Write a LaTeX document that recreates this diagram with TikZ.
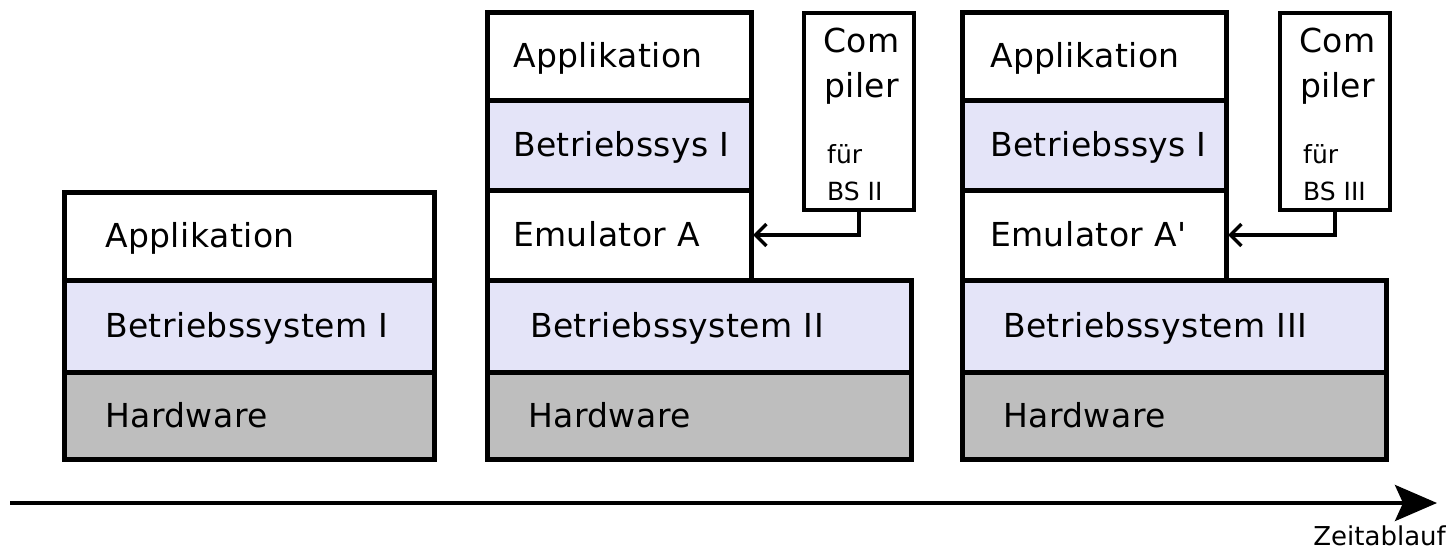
\documentclass[tikz,border=0pt]{standalone}
\usepackage{fontspec}
\setmainfont{DejaVu Sans}
\newfontfamily\widefont[LetterSpace=1.5]{DejaVu Sans}
\usetikzlibrary{arrows.meta}
\definecolor{osfill}{HTML}{E4E4F8}
\definecolor{hwfill}{HTML}{BEBEBE}
\newcommand{\bigtxt}{\widefont\fontsize{33}{38}\selectfont}
\newcommand{\smtxt}{\fontsize{25}{30}\selectfont}
\begin{document}
\begin{tikzpicture}[x=1pt,y=-1pt,
  layer/.style={draw=black, line width=5pt, anchor=north west, outer sep=0pt,
    inner xsep=0pt, inner ysep=0pt, align=left, font=\bigtxt,
    text height=23pt, text depth=0pt},
  comp/.style={draw=black, line width=4pt, fill=white, anchor=north west,
    outer sep=0pt, inner sep=0pt, minimum width=110pt, minimum height=197pt},
  ctext/.style={anchor=base west, inner sep=0pt, font=\bigtxt},
  csmall/.style={anchor=base west, inner sep=0pt, font=\smtxt},
  conn/.style={draw=black, line width=3.5pt, -{Straight Barb[length=11pt,width=22pt]}},
  timeline/.style={draw=black, line width=4pt, -{Stealth[length=42pt,width=36pt,inset=8pt]}},
]
\useasboundingbox (0,0) rectangle (1446,551);

% Stack 1
\node[layer, fill=white,  text width=370pt, minimum height=88pt] (a1) at (64,192) {\hspace*{41pt}Applikation};
\node[layer, fill=osfill, text width=370pt, minimum height=92pt] (b1) at (64,280) {\hspace*{41pt}Betriebssystem I};
\node[layer, fill=hwfill, text width=370pt, minimum height=87pt] (h1) at (64,372) {\hspace*{41pt}Hardware};

% Stack 2
\node[layer, fill=osfill, text width=424pt, minimum height=92pt] (o2) at (487,280) {\hspace*{43pt}Betriebssystem II};
\node[layer, fill=hwfill, text width=424pt, minimum height=87pt] (h2) at (487,372) {\hspace*{41pt}Hardware};
\node[layer, fill=white,  text width=264pt, minimum height=87pt] (a2) at (487,13)  {\hspace*{26pt}Applikation};
\node[layer, fill=osfill, text width=264pt, minimum height=90pt] (b2) at (487,100) {\hspace*{26pt}Betriebssys I};
\node[layer, fill=white,  text width=264pt, minimum height=90pt] (e2) at (487,190) {\hspace*{26pt}Emulator A};
\node[comp] (c2) at (804,13) {};
\node[ctext]  (c2a) at (823,53)  {Com};
\node[ctext]  (c2b) at (824,97)  {piler};
\node[csmall] (c2c) at (827,163) {für};
\node[csmall] (c2d) at (827,200) {BS II};
\draw[conn] (c2.south) |- ([xshift=2pt]e2.east);

% Stack 3
\node[layer, fill=osfill, text width=424pt, minimum height=92pt] (o3) at (962,280) {\hspace*{41pt}Betriebssystem III};
\node[layer, fill=hwfill, text width=424pt, minimum height=87pt] (h3) at (962,372) {\hspace*{41pt}Hardware};
\node[layer, fill=white,  text width=264pt, minimum height=87pt] (a3) at (962,13)  {\hspace*{28pt}Applikation};
\node[layer, fill=osfill, text width=264pt, minimum height=90pt] (b3) at (962,100) {\hspace*{28pt}Betriebssys I};
\node[layer, fill=white,  text width=264pt, minimum height=90pt] (e3) at (962,190) {\hspace*{28pt}Emulator A{\char"27}};
\node[comp] (c3) at (1280,13) {};
\node[ctext]  (c3a) at (1299,53)  {Com};
\node[ctext]  (c3b) at (1300,97)  {piler};
\node[csmall] (c3c) at (1303,163) {für};
\node[csmall] (c3d) at (1303,200) {BS III};
\draw[conn] (c3.south) |- ([xshift=2pt]e3.east);

% Time axis
\coordinate (t0) at (10,503);
\coordinate (t1) at (1437,503);
\draw[timeline] (t0) -- (t1);
\node[anchor=base east, inner sep=0pt, font=\fontsize{26}{30}\selectfont] (zl) at (1446,545) {Zeitablauf};
\end{tikzpicture}
\end{document}
